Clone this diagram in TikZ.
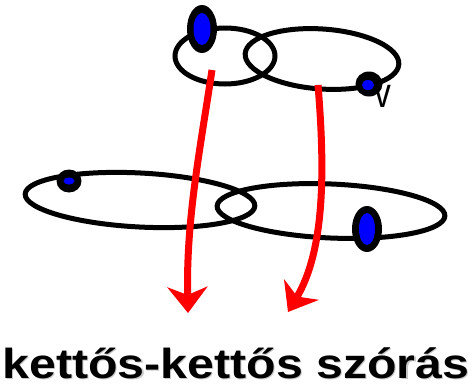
\documentclass[tikz,border=0pt]{standalone}
\usepackage{fontspec}
\setmainfont{Liberation Sans}
\usetikzlibrary{arrows.meta}
\begin{document}
\begin{tikzpicture}[x=1pt,y=-1pt,
  orbit/.style={draw=black,line width=5pt},
  path/.style={draw=red,line width=7pt,
    -{Stealth[length=26pt,width=40pt,inset=8pt]}},
]
\useasboundingbox (0,0) rectangle (475,389);

% upper pair of orbits
\draw[orbit] (225,56) ellipse [x radius=50,y radius=28];
\draw[orbit,rotate around={-4:(322,59)}] (322,59) ellipse [x radius=77,y radius=30];

% lower pair of orbits
\draw[orbit,rotate around={-3:(140,200)}] (140,200) ellipse [x radius=115,y radius=27];
\draw[orbit,rotate around={-2.5:(331,211)}] (331,211) ellipse [x radius=114,y radius=27];

% particles
\fill[black] (202,29) ellipse [x radius=15,y radius=24];
\fill[blue]  (202,29) ellipse [x radius=8.5,y radius=16];
\fill[black] (369,84) ellipse [x radius=13.5,y radius=12.5];
\fill[blue]  (368,85) ellipse [x radius=6,y radius=5];
\fill[black] (69,181) ellipse [x radius=12.5,y radius=11.5];
\fill[blue]  (69,181) ellipse [x radius=5.5,y radius=3.5];
\fill[black] (367,229) ellipse [x radius=15,y radius=23];
\fill[blue]  (367,229) ellipse [x radius=8,y radius=16];

\node[inner sep=0pt,anchor=base] (v) at (383,107)
  {\scalebox{0.8}[1]{\fontsize{42}{42}\selectfont v}};

% scattering paths
\coordinate (a1) at (212,70);
\coordinate (b1) at (188,313);
\coordinate (a2) at (318,85);
\coordinate (b2) at (288,312);
\draw[path] (a1) .. controls (200,150) and (186,220) .. (b1);
\draw[path] (a2) .. controls (325,170) and (325,250) .. (b2);

% caption with soft shadow
\node[text=black!22,inner sep=0pt,anchor=base] (capshadow) at (237.2,379.7)
  {\scalebox{1.15}[1]{\fontsize{42}{42}\selectfont\bfseries kettős-kettős szórás}};
\node[inner sep=0pt,anchor=base] (cap) at (236,378.5)
  {\scalebox{1.15}[1]{\fontsize{42}{42}\selectfont\bfseries kettős-kettős szórás}};
\end{tikzpicture}
\end{document}
